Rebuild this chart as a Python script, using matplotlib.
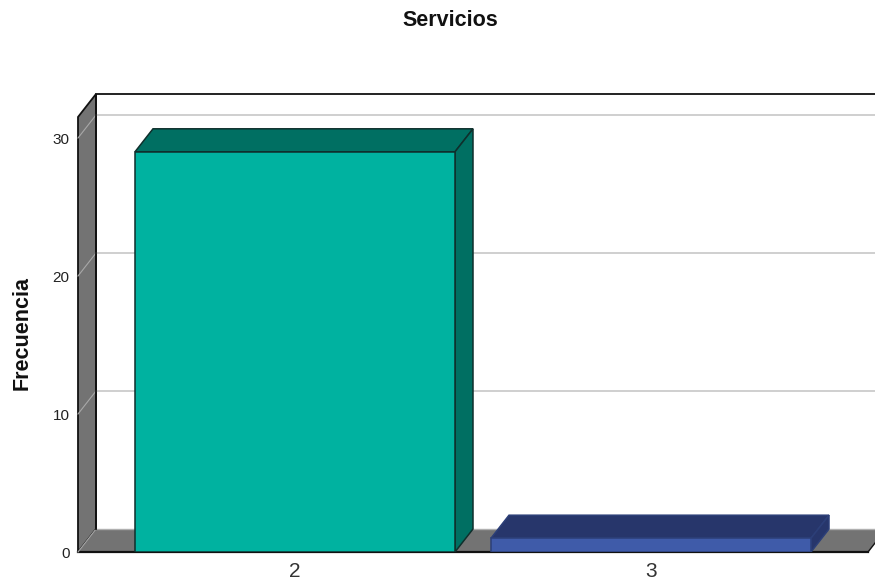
import matplotlib
matplotlib.use("Agg")
import matplotlib.pyplot as plt
from matplotlib.patches import Polygon

plt.rcParams["font.family"] = ["Liberation Sans", "DejaVu Sans"]

categorias = ["2", "3"]
frecuencias = [29, 1]
colores_frente = ["#00b2a0", "#3f5ba9"]
colores_tapa = ["#006f62", "#27366b"]
y_ticks = [0, 10, 20, 30]

# desplazamiento de la perspectiva, en unidades de datos
dx = 18 / 356
dy = 23 / 13.8
ancho = 320 / 356
x_min = (78 - 295) / 356
x_max = (868 - 295) / 356
y_max = (552 - 117) / 13.8

fig = plt.figure(figsize=(8.75, 5.86), dpi=100)
ax = fig.add_axes([78 / 875, 34 / 586, (875 - 78) / 875, (552 - 94) / 586])
ax.set_xlim(x_min, (875 - 295) / 356)
ax.set_ylim(0, y_max + dy)
ax.set_facecolor("none")
for s in ax.spines.values():
    s.set_visible(False)

gris = "#737373"
borde = "#111111"

# pared izquierda y suelo
ax.add_patch(Polygon([(x_min, 0), (x_min + dx, dy), (x_min + dx, y_max + dy), (x_min, y_max)],
                     facecolor=gris, edgecolor=borde, lw=1.3, clip_on=False, zorder=1))
ax.add_patch(Polygon([(x_min, 0), (x_min + dx, dy), (x_max + dx, dy), (x_max, 0)],
                     facecolor=gris, edgecolor="none", clip_on=False, zorder=1))
ax.plot([x_min + dx, x_max + dx], [dy, dy], color="#b0b0b0", lw=1.0, zorder=1, clip_on=False)
ax.plot([x_min, x_max], [0, 0], color=borde, lw=1.6, zorder=2, clip_on=False)
ax.plot([x_max, x_max + dx], [0, dy], color=borde, lw=1.0, zorder=2, clip_on=False)

# rejilla del fondo
for t in y_ticks:
    if t > 0:
        ax.plot([x_min + dx, x_max + dx], [t + dy, t + dy], color="#cccccc", lw=1.3, zorder=1, clip_on=False)
    ax.plot([x_min, x_min + dx], [t, t + dy], color="#a8a8a8", lw=0.8, zorder=2, clip_on=False)
ax.plot([x_min + dx, x_min + dx], [dy, y_max + dy], color=borde, lw=1.3, zorder=2)
ax.plot([x_min + dx, x_max + dx], [y_max + dy, y_max + dy], color=borde, lw=1.3, zorder=2, clip_on=False)

# barras
pos = list(range(len(categorias)))
barras = ax.bar(pos, frecuencias, width=ancho, color=colores_frente, edgecolor="#0f2f2c", linewidth=1.1, zorder=4)
barras[1].set_edgecolor("#2c3f78")
for b, c in zip(barras, colores_tapa):
    x0 = b.get_x()
    x1 = x0 + b.get_width()
    h = b.get_height()
    ec = "#0f2f2c" if c == colores_tapa[0] else "#2c3f78"
    ax.add_patch(Polygon([(x0, h), (x0 + dx, h + dy), (x1 + dx, h + dy), (x1, h)],
                         facecolor=c, edgecolor=ec, lw=1.1, zorder=3))
    ax.add_patch(Polygon([(x1, 0), (x1 + dx, dy), (x1 + dx, h + dy), (x1, h)],
                         facecolor=c, edgecolor=ec, lw=1.1, zorder=3))

ax.set_xticks(pos)
ax.set_xticklabels(categorias, fontsize=15, color="#333333")
ax.set_yticks(y_ticks)
ax.set_yticklabels([str(t) for t in y_ticks], fontsize=11, color="#222222")
ax.tick_params(length=0)
ax.tick_params(axis="x", pad=7.5)
ax.tick_params(axis="y", pad=6)

fig.text(450 / 875, 1 - 20 / 586, "Servicios", ha="center", va="center", fontsize=15.5, fontweight="bold", color="#111111")
fig.text(22 / 875, 1 - 333 / 586, "Frecuencia", ha="center", va="center", rotation=90, fontsize=15.5, fontweight="bold", color="#111111")

fig.savefig("out.png", dpi=100)
